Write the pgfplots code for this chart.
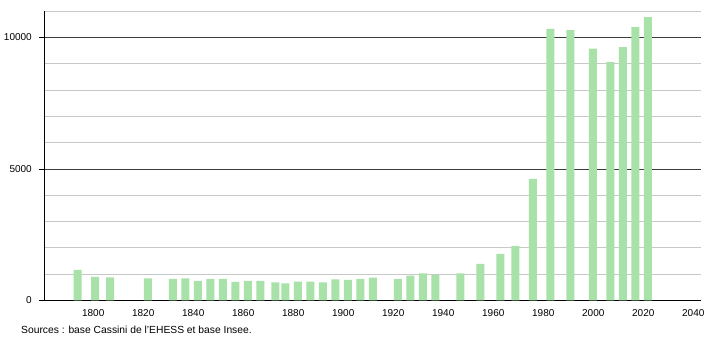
\documentclass[border=0pt]{standalone}
\usepackage{fontspec}
\setmainfont{Liberation Sans}
\usepackage{pgfplots}
\pgfplotsset{compat=1.18}
\usepackage{pgfplotstable}
\definecolor{barcol}{RGB}{168,226,168}
\definecolor{majgrid}{RGB}{60,60,60}
\definecolor{mingrid}{RGB}{200,200,200}
\pgfplotstableread{
year pop
1793 1160
1800 893
1806 882
1821 844
1831 817
1836 844
1841 741
1846 817
1851 817
1856 703
1861 741
1866 741
1872 692
1876 654
1881 715
1886 715
1891 692
1896 806
1901 779
1906 817
1911 867
1921 817
1926 943
1931 1034
1936 970
1946 1034
1954 1388
1962 1768
1968 2072
1975 4620
1982 10323
1990 10270
1999 9575
2006 9057
2011 9627
2016 10388
2021 10768
}\popdata
\begin{document}
\begin{tikzpicture}[x=1pt,y=1pt]
\useasboundingbox (0,0) rectangle (710,340);
\begin{axis}[
  at={(44pt,39.5pt)}, anchor=south west,
  scale only axis, width=657pt, height=289.5pt,
  xmin=1780.3, xmax=2043.1, ymin=0, ymax=11000,
  axis x line*=bottom, axis y line*=left,
  axis line style={-, black, line width=0.8pt},
  xtick={1800,1820,...,2040},
  ytick={0,5000,10000},
  minor ytick={1000,2000,3000,4000,6000,7000,8000,9000,11000},
  scaled ticks=false,
  ymajorgrids, yminorgrids,
  major grid style={majgrid, line width=0.8pt},
  minor grid style={mingrid, line width=0.8pt},
  tick align=outside, major tick length=5pt, minor tick length=0pt,
  xtick style={draw=none},
  ytick style={black, line width=0.8pt},
  /pgf/number format/1000 sep={},
  /pgf/number format/assume math mode=true,
  ticklabel style={font=\fontsize{10}{12}\selectfont},
  yticklabel style={inner sep=0pt, xshift=-7pt},
  xticklabel style={inner sep=0pt, yshift=-3.5pt},
  ybar, bar width=8pt,
]
\addplot[fill=barcol, draw=none, bar shift=2pt] table[x=year,y=pop] {\popdata};
\end{axis}
\node[anchor=base west, inner sep=0pt, font=\fontsize{10.3}{12}\selectfont] at (21,6.7) {Sources : base Cassini de l'EHESS et base Insee.};
\end{tikzpicture}
\end{document}
